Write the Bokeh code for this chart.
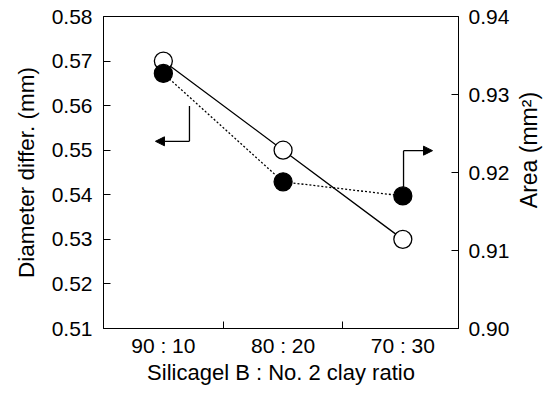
import math
from bokeh.plotting import figure
from bokeh.layouts import row
from bokeh.models import (Range1d, LinearAxis, FixedTicker, PrintfTickFormatter,
                          Arrow, NormalHead, ColumnDataSource)
from bokeh.core.properties import value
from bokeh.embed import file_html
from bokeh.resources import INLINE

# ---- data ----
categories = ["90 : 10", "80 : 20", "70 : 30"]
diameter = [0.570, 0.550, 0.530]       # open circles, left axis (mm)
area = [0.9327, 0.9188, 0.9170]        # filled circles, right axis (mm^2)
left_ticks = [0.51, 0.52, 0.53, 0.54, 0.55, 0.56, 0.57, 0.58]
right_ticks = [0.90, 0.91, 0.92, 0.93, 0.94]
x_title = "Silicagel B : No. 2 clay ratio"
left_title = "Diameter differ. (mm)"
right_title = "Area (mm²)"

# annotation arrows (data coordinates)
left_arrow_x = [0.218, -0.066]      # stem x, head x
left_arrow_y = [0.5599, 0.5520]     # stem top, elbow
right_arrow_x = [2.006, 2.248]
right_arrow_y = [0.9181, 0.9228]

FONT = "Liberation Sans"
FS = "21px"

xs = list(range(len(categories)))
boundaries = [i + 0.5 for i in xs[:-1]]

p = figure(width=513, height=397, output_backend="svg", toolbar_location=None,
           x_range=Range1d(-0.5, 2.465), y_range=Range1d(left_ticks[0], left_ticks[-1]),
           min_border_left=103, min_border_right=55, min_border_top=16, min_border_bottom=69)
p.extra_y_ranges = {"area": Range1d(right_ticks[0], right_ticks[-1])}
p.grid.visible = False
p.outline_line_color = "black"
p.outline_line_width = 1
p.background_fill_color = "white"
p.border_fill_color = "white"

# bottom axis
xa = p.xaxis[0]
xa.ticker = FixedTicker(ticks=xs, minor_ticks=boundaries)
xa.major_label_overrides = {i: c for i, c in zip(xs, categories)}
xa.major_tick_line_color = None
xa.major_tick_in = 0
xa.major_tick_out = 0
xa.minor_tick_in = 7
xa.minor_tick_out = 0
xa.minor_tick_line_color = "black"
xa.axis_label = x_title
xa.major_label_standoff = 5
xa.axis_label_standoff = 0

# left axis
ya = p.yaxis[0]
ya.ticker = FixedTicker(ticks=left_ticks, minor_ticks=[])
ya.formatter = PrintfTickFormatter(format="%.2f")
ya.axis_label = left_title
ya.major_label_standoff = 11
ya.axis_label_standoff = 10

# right axis (its title is drawn in the narrow strip to the right)
ra = LinearAxis(y_range_name="area", ticker=FixedTicker(ticks=right_ticks, minor_ticks=[]),
                formatter=PrintfTickFormatter(format="%.2f"))
ra.major_label_standoff = 10
p.add_layout(ra, "right")

for ax in [xa, ya, ra]:
    ax.axis_line_color = "black"
    ax.axis_line_width = 1
    ax.major_label_text_font = FONT
    ax.major_label_text_font_size = FS
    ax.major_label_text_color = "black"
    ax.axis_label_text_font = FONT
    ax.axis_label_text_font_style = "normal"
    ax.axis_label_text_color = "black"
xa.axis_label_text_font_size = "22px"
ya.axis_label_text_font_size = "22.5px"
for ax in [ya, ra]:
    ax.major_tick_in = 7
    ax.major_tick_out = 0
    ax.major_tick_line_color = "black"
    ax.minor_tick_line_color = None

src_d = ColumnDataSource(dict(x=xs, y=diameter))
src_a = ColumnDataSource(dict(x=xs, y=area))

p.line("x", "y", source=src_d, line_color="black", line_width=1.3)
p.line("x", "y", source=src_a, y_range_name="area", line_color="black",
       line_width=1.3, line_dash="2 2")
p.scatter("x", "y", source=src_d, size=18, marker="circle", fill_color="white",
          line_color="black", line_width=1.3)
p.scatter("x", "y", source=src_a, y_range_name="area", size=18, marker="circle",
          fill_color="black", line_color="black", line_width=1.3)

# left arrow
p.segment(x0=[left_arrow_x[0]], y0=[left_arrow_y[0]], x1=[left_arrow_x[0]], y1=[left_arrow_y[1]],
          line_color="black", line_width=1.3)
p.add_layout(Arrow(end=NormalHead(size=9, fill_color="black", line_color="black"),
                   x_start=left_arrow_x[0], y_start=left_arrow_y[1],
                   x_end=left_arrow_x[1], y_end=left_arrow_y[1],
                   line_color="black", line_width=1.3))
# right arrow
p.segment(x0=[right_arrow_x[0]], y0=[right_arrow_y[0]], x1=[right_arrow_x[0]], y1=[right_arrow_y[1]],
          y_range_name="area", line_color="black", line_width=1.3)
p.add_layout(Arrow(end=NormalHead(size=9, fill_color="black", line_color="black"),
                   x_start=right_arrow_x[0], y_start=right_arrow_y[1],
                   x_end=right_arrow_x[1], y_end=right_arrow_y[1],
                   y_range_name="area", line_color="black", line_width=1.3))

# narrow strip holding the right-axis title (reads bottom to top)
t = figure(width=30, height=397, output_backend="svg", toolbar_location=None,
           x_range=Range1d(0, 1), y_range=Range1d(0, 1),
           min_border=0, min_border_left=0, min_border_right=0,
           min_border_top=0, min_border_bottom=0)
t.axis.visible = False
t.grid.visible = False
t.outline_line_color = None
t.background_fill_color = "white"
t.border_fill_color = "white"
t.text(x=[0.5], y=[0.572], text=[right_title], angle=math.pi / 2,
       text_align="center", text_baseline="middle", text_font=value(FONT),
       text_font_size="23px", text_color="black")

layout = row(p, t, spacing=0)
open("out.html", "w").write(file_html(layout, INLINE))
